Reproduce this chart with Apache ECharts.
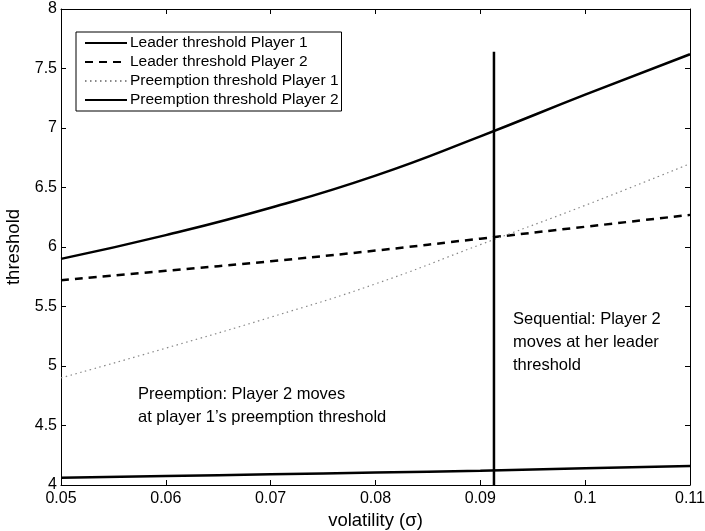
<!DOCTYPE html>
<html>
<head>
<meta charset="utf-8">
<style>
  html, body { margin: 0; padding: 0; background: #fff; }
  #chart { width: 705px; height: 531px; }
</style>
<script src="https://cdn.jsdelivr.net/npm/echarts@6/dist/echarts.min.js"></script>
</head>
<body>
<div id="chart"></div>
<script>
// volatility grid (sigma)
const sigma = [0.05, 0.06, 0.07, 0.08, 0.09, 0.10, 0.11];

// thresholds along the volatility grid
const leaderP1     = [5.90, 6.10, 6.33, 6.60, 6.93, 7.28, 7.62];
const leaderP2     = [5.72, 5.80, 5.88, 5.97, 6.07, 6.17, 6.27];
const preemptionP1 = [4.90, 5.15, 5.41, 5.69, 6.02, 6.35, 6.70];
const preemptionP2 = [4.06, 4.075, 4.09, 4.105, 4.12, 4.14, 4.16];

// regime boundary between preemption and sequential play
const boundarySigma = 0.0913;
const boundaryRange = [4, 7.64];

const seriesNames = [
  'Leader threshold Player 1',
  'Leader threshold Player 2',
  'Preemption threshold Player 1',
  'Preemption threshold Player 2'
];

const FONT = 'Liberation Sans, Arial, Helvetica, sans-serif';

function pairs(xs, ys) { return xs.map((x, i) => [x, ys[i]]); }

const chart = echarts.init(document.getElementById('chart'), null, { renderer: 'canvas' });

const axisCommon = {
  axisLine: { show: true, lineStyle: { color: '#000', width: 1 } },
  axisTick: { show: true, inside: true, length: 5, lineStyle: { color: '#000' } },
  splitLine: { show: false }
};

// line series without point markers; the hidden item style also keeps
// the legend sample a plain stroke
function curve(name, values, lineStyle) {
  return {
    name: name, type: 'line', data: pairs(sigma, values),
    smooth: true, showSymbol: false, symbol: 'none',
    lineStyle: lineStyle,
    itemStyle: { color: lineStyle.color, opacity: 0 }
  };
}

const option = {
  backgroundColor: '#fff',
  animation: false,
  textStyle: { fontFamily: FONT },
  grid: { left: 61, right: 15, top: 9, bottom: 46, containLabel: false, outerBoundsMode: 'none' },
  xAxis: [
    Object.assign({
      type: 'value', min: 0.05, max: 0.11, interval: 0.01, position: 'bottom',
      name: 'volatility (σ)', nameLocation: 'middle', nameGap: 26,
      nameTextStyle: { fontSize: 18.5, color: '#000', fontFamily: FONT },
      axisLabel: { color: '#000', fontSize: 16, fontFamily: FONT, margin: 6,
        formatter: v => String(Math.round(v * 100) / 100) }
    }, axisCommon),
    Object.assign({
      type: 'value', min: 0.05, max: 0.11, interval: 0.01, position: 'top',
      axisLabel: { show: false }
    }, axisCommon)
  ],
  yAxis: [
    Object.assign({
      type: 'value', min: 4, max: 8, interval: 0.5, position: 'left',
      name: 'threshold', nameLocation: 'middle', nameGap: 37, nameRotate: 90,
      nameTextStyle: { fontSize: 18.5, color: '#000', fontFamily: FONT },
      axisLabel: { color: '#000', fontSize: 16, fontFamily: FONT, margin: 4,
        formatter: v => String(Math.round(v * 10) / 10) }
    }, axisCommon),
    Object.assign({
      type: 'value', min: 4, max: 8, interval: 0.5, position: 'right',
      axisLabel: { show: false }
    }, axisCommon)
  ],
  legend: {
    show: true,
    data: seriesNames,
    orient: 'vertical',
    left: 76, top: 32,
    padding: [3, 3, 3, 8],
    itemGap: 3,
    itemWidth: 42, itemHeight: 14,
    itemStyle: { opacity: 0 },
    borderColor: '#000', borderWidth: 1,
    backgroundColor: '#fff',
    textStyle: { fontSize: 15.5, lineHeight: 16, color: '#000', fontFamily: FONT, padding: [0, 0, 0, -2] },
    selectedMode: false
  },
  series: [
    curve(seriesNames[0], leaderP1, { color: '#000', width: 2.5, type: 'solid' }),
    curve(seriesNames[1], leaderP2, { color: '#000', width: 2.5, type: [8, 6] }),
    curve(seriesNames[2], preemptionP1, { color: '#888', width: 1.2, type: [1.5, 3.5] }),
    curve(seriesNames[3], preemptionP2, { color: '#000', width: 2.5, type: 'solid' }),
    {
      name: 'boundary', type: 'line',
      data: [[boundarySigma, boundaryRange[0]], [boundarySigma, boundaryRange[1]]],
      showSymbol: false, symbol: 'none',
      lineStyle: { color: '#000', width: 2.5 }
    }
  ],
  graphic: [
    {
      type: 'text', left: 138, top: 383, silent: true,
      style: {
        text: 'Preemption: Player 2 moves\nat player 1\u2019s preemption threshold',
        font: '16.5px ' + FONT, fill: '#000', lineHeight: 23
      }
    },
    {
      type: 'text', left: 513, top: 308, silent: true,
      style: {
        text: 'Sequential: Player 2\nmoves at her leader\nthreshold',
        font: '16.5px ' + FONT, fill: '#000', lineHeight: 23
      }
    }
  ]
};

chart.setOption(option);
</script>
</body>
</html>
